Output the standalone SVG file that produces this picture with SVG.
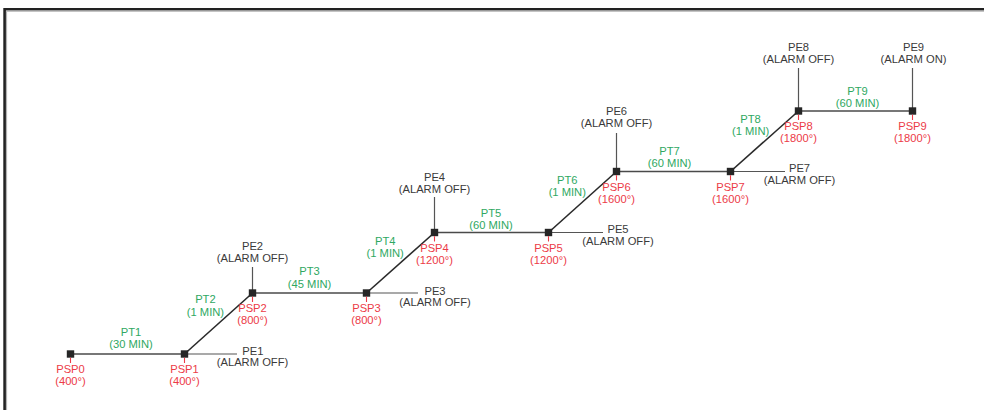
<svg xmlns="http://www.w3.org/2000/svg" width="984" height="410" viewBox="0 0 984 410">
<style>
text{font-family:"Liberation Sans",Arial,sans-serif;font-size:11.2px;text-anchor:middle}
.g{fill:#2fa862}
.r{fill:#ec3b47}
.k{fill:#3a3a3a}
.main{stroke:#2a2a2a;stroke-width:1.6;fill:none}
.hz{stroke:#4a4a4a;stroke-width:1.5;fill:none}
.ext{stroke:#555;stroke-width:1.2;fill:none}
.tick{stroke:#ec3b47;stroke-width:1.1}
.sq{fill:#262626}
</style>
<rect width="984" height="410" fill="#fff"/>
<g id="frame">
<path d="M4.6,410 V9.3 H984" fill="none" stroke="#222" stroke-width="2.6"/>
<path d="M6.6,410 V11.2 H984" fill="none" stroke="#aaa" stroke-width="1"/>
</g>
<g id="connectors">
<path class="hz" d="M70.5,354 H184.5"/>
<path class="main" d="M184.5,354 L252.5,293"/>
<path class="hz" d="M252.5,293 H366.5"/>
<path class="main" d="M366.5,293 L434.5,232.5"/>
<path class="hz" d="M434.5,232.5 H548.5"/>
<path class="main" d="M548.5,232.5 L616.5,171.5"/>
<path class="hz" d="M616.5,171.5 H730.5"/>
<path class="main" d="M730.5,171.5 L798.5,111"/>
<path class="hz" d="M798.5,111 H912.5"/>
<path class="ext" d="M184.5,354 H237"/>
<path class="ext" d="M366.5,293 H418"/>
<path class="ext" d="M548.5,232.5 H603"/>
<path class="ext" d="M730.5,171.5 H785"/>
<path class="ext" d="M252.5,267 V293"/>
<path class="ext" d="M434.5,197 V232.5"/>
<path class="ext" d="M616.5,133 V171.5"/>
<path class="ext" d="M798.5,68 V111"/>
<path class="ext" d="M912.5,68 V111"/>
<text class="g" x="131" y="336">PT1</text><text class="g" x="131" y="347.5">(30 MIN)</text>
<text class="g" x="205.4" y="303.3">PT2</text><text class="g" x="205.4" y="315.5">(1 MIN)</text>
<text class="g" x="309.6" y="275">PT3</text><text class="g" x="309.6" y="287.5">(45 MIN)</text>
<text class="g" x="385.2" y="245">PT4</text><text class="g" x="385.2" y="257">(1 MIN)</text>
<text class="g" x="491" y="216.7">PT5</text><text class="g" x="491" y="228.5">(60 MIN)</text>
<text class="g" x="567.3" y="184">PT6</text><text class="g" x="567.3" y="196">(1 MIN)</text>
<text class="g" x="669.6" y="155">PT7</text><text class="g" x="669.6" y="166.5">(60 MIN)</text>
<text class="g" x="750.6" y="122.7">PT8</text><text class="g" x="750.6" y="134.5">(1 MIN)</text>
<text class="g" x="857.6" y="95">PT9</text><text class="g" x="857.6" y="106.5">(60 MIN)</text>
</g>
<g id="PSP0"><rect class="sq" x="66.8" y="350.3" width="7.4" height="7.4"/><line class="tick" x1="70.5" y1="357.7" x2="70.5" y2="363"/><text class="r" x="70.5" y="373">PSP0</text><text class="r" x="70.5" y="385">(400°)</text></g>
<g id="PSP1"><rect class="sq" x="180.8" y="350.3" width="7.4" height="7.4"/><line class="tick" x1="184.5" y1="357.7" x2="184.5" y2="363"/><text class="r" x="184.5" y="373">PSP1</text><text class="r" x="184.5" y="385">(400°)</text></g>
<g id="PSP2"><rect class="sq" x="248.8" y="289.3" width="7.4" height="7.4"/><line class="tick" x1="252.5" y1="296.7" x2="252.5" y2="302"/><text class="r" x="252.5" y="312">PSP2</text><text class="r" x="252.5" y="324">(800°)</text></g>
<g id="PSP3"><rect class="sq" x="362.8" y="289.3" width="7.4" height="7.4"/><line class="tick" x1="366.5" y1="296.7" x2="366.5" y2="302"/><text class="r" x="366.5" y="312">PSP3</text><text class="r" x="366.5" y="324">(800°)</text></g>
<g id="PSP4"><rect class="sq" x="430.8" y="228.8" width="7.4" height="7.4"/><line class="tick" x1="434.5" y1="236.2" x2="434.5" y2="241.5"/><text class="r" x="434.5" y="251.5">PSP4</text><text class="r" x="434.5" y="263.5">(1200°)</text></g>
<g id="PSP5"><rect class="sq" x="544.8" y="228.8" width="7.4" height="7.4"/><line class="tick" x1="548.5" y1="236.2" x2="548.5" y2="241.5"/><text class="r" x="548.5" y="251.5">PSP5</text><text class="r" x="548.5" y="263.5">(1200°)</text></g>
<g id="PSP6"><rect class="sq" x="612.8" y="167.8" width="7.4" height="7.4"/><line class="tick" x1="616.5" y1="175.2" x2="616.5" y2="180.5"/><text class="r" x="616.5" y="190.5">PSP6</text><text class="r" x="616.5" y="202.5">(1600°)</text></g>
<g id="PSP7"><rect class="sq" x="726.8" y="167.8" width="7.4" height="7.4"/><line class="tick" x1="730.5" y1="175.2" x2="730.5" y2="180.5"/><text class="r" x="730.5" y="190.5">PSP7</text><text class="r" x="730.5" y="202.5">(1600°)</text></g>
<g id="PSP8"><rect class="sq" x="794.8" y="107.3" width="7.4" height="7.4"/><line class="tick" x1="798.5" y1="114.7" x2="798.5" y2="120"/><text class="r" x="798.5" y="130">PSP8</text><text class="r" x="798.5" y="142">(1800°)</text></g>
<g id="PSP9"><rect class="sq" x="908.8" y="107.3" width="7.4" height="7.4"/><line class="tick" x1="912.5" y1="114.7" x2="912.5" y2="120"/><text class="r" x="912.5" y="130">PSP9</text><text class="r" x="912.5" y="142">(1800°)</text></g>
<g id="PE1"><text class="k" x="252.8" y="354.5">PE1</text><text class="k" x="252.5" y="366">(ALARM OFF)</text></g>
<g id="PE2"><text class="k" x="252.5" y="250">PE2</text><text class="k" x="252.5" y="262">(ALARM OFF)</text></g>
<g id="PE3"><text class="k" x="435" y="294.5">PE3</text><text class="k" x="435" y="306">(ALARM OFF)</text></g>
<g id="PE4"><text class="k" x="434.5" y="180.5">PE4</text><text class="k" x="434.5" y="192.5">(ALARM OFF)</text></g>
<g id="PE5"><text class="k" x="618" y="233">PE5</text><text class="k" x="618" y="244.5">(ALARM OFF)</text></g>
<g id="PE6"><text class="k" x="616.5" y="115">PE6</text><text class="k" x="616.5" y="126.5">(ALARM OFF)</text></g>
<g id="PE7"><text class="k" x="799.5" y="172">PE7</text><text class="k" x="799.5" y="183.5">(ALARM OFF)</text></g>
<g id="PE8"><text class="k" x="798.5" y="50.5">PE8</text><text class="k" x="798.5" y="63">(ALARM OFF)</text></g>
<g id="PE9"><text class="k" x="913.5" y="50.5">PE9</text><text class="k" x="913.5" y="63">(ALARM ON)</text></g>
</svg>
